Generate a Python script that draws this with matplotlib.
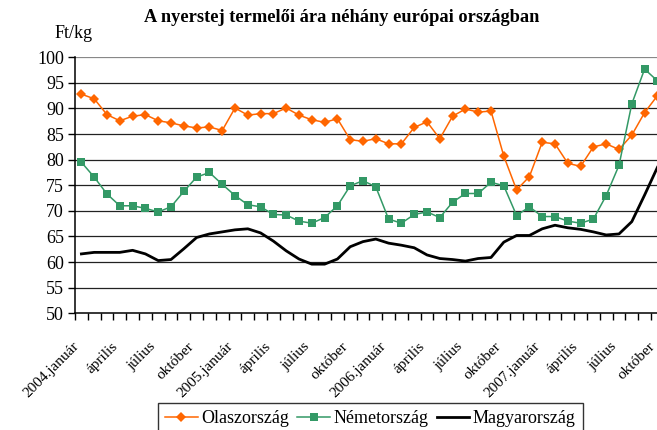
import numpy as np
import matplotlib
matplotlib.use("Agg")
from matplotlib import pyplot as plt
from matplotlib.ticker import FixedLocator
from matplotlib.transforms import ScaledTranslation

plt.rcParams['font.family'] = ['Liberation Serif', 'DejaVu Serif']

title = 'A nyerstej termelői ára néhány európai országban'
unit_label = 'Ft/kg'
series_names = ['Olaszország', 'Németország', 'Magyarország']

# monthly prices 2004.január .. 2007.október (46 months)
olasz = [92.8, 91.9, 88.8, 87.6, 88.5, 88.8, 87.6, 87.2, 86.6, 86.2, 86.4, 85.7,
         90.1, 88.7, 89.0, 89.0, 90.1, 88.7, 87.8, 87.3, 88.0, 83.9, 83.6, 84.1,
         83.1, 83.1, 86.3, 87.4, 84.1, 88.5, 89.9, 89.3, 89.5, 80.7, 74.1, 76.7,
         83.4, 83.1, 79.3, 78.7, 82.5, 83.1, 82.0, 84.8, 89.2, 92.5]
nemet = [79.5, 76.6, 73.3, 71.0, 71.0, 70.5, 69.8, 70.8, 73.8, 76.6, 77.5, 75.2,
         73.0, 71.2, 70.8, 69.3, 69.2, 68.0, 67.6, 68.7, 71.0, 74.9, 75.9, 74.7,
         68.4, 67.6, 69.3, 69.8, 68.7, 71.7, 73.4, 73.4, 75.6, 74.9, 69.1, 70.8,
         68.9, 68.9, 68.0, 67.6, 68.4, 73.0, 78.9, 90.9, 97.7, 95.4]
magyar = [61.6, 61.9, 61.9, 61.9, 62.3, 61.6, 60.3, 60.5, 62.6, 64.8, 65.5, 65.9,
          66.3, 66.5, 65.7, 64.1, 62.2, 60.6, 59.6, 59.6, 60.6, 63.0, 64.0, 64.5,
          63.7, 63.3, 62.8, 61.4, 60.7, 60.5, 60.2, 60.7, 60.9, 63.9, 65.2, 65.2,
          66.5, 67.2, 66.7, 66.4, 65.9, 65.3, 65.5, 67.9, 73.1, 78.5]

tick_labels = ['2004.január', 'április', 'július', 'október',
               '2005.január', 'április', 'július', 'október',
               '2006.január', 'április', 'július', 'október',
               '2007.január', 'április', 'július', 'október']
y_ticks = [50, 55, 60, 65, 70, 75, 80, 85, 90, 95, 100]

x = np.arange(len(olasz))

fig = plt.figure(figsize=(6.57, 4.30), dpi=100)
ax = fig.add_axes([75 / 657, 1 - 313.3 / 430, 588.8 / 657, 256 / 430])

for yv in y_ticks[1:]:
    ax.axhline(yv, color='#222222' if yv < 100 else '#888888', lw=0.9, zorder=1)

l1, = ax.plot(x, olasz, color='#FF6600', lw=1.1, marker='D', ms=5.5,
              markeredgewidth=0, zorder=3)
l2, = ax.plot(x, nemet, color='#339966', lw=1.1, marker='s', ms=6,
              markeredgewidth=0, zorder=3)
l3, = ax.plot(x, magyar, color='black', lw=2, zorder=2)

ax.set_xlim(-0.5, len(olasz) - 0.5)
ax.set_ylim(50, 100)
ax.set_yticks(y_ticks)
ax.tick_params(axis='y', labelsize=13, length=5, width=1, pad=3, direction='out')

ax.xaxis.set_major_locator(FixedLocator(np.arange(-0.5, len(olasz), 1)))
ax.xaxis.set_major_formatter(plt.NullFormatter())
ax.xaxis.set_minor_locator(FixedLocator(x[::3]))
ax.set_xticklabels(tick_labels, minor=True, rotation=45, ha='right',
                   rotation_mode='anchor', fontsize=11)
ax.tick_params(axis='x', which='major', length=5, width=1, direction='out')
ax.tick_params(axis='x', which='minor', length=0, pad=8)
shift = ScaledTranslation(-0.09, -0.15, fig.dpi_scale_trans)
for lab in ax.xaxis.get_minorticklabels():
    lab.set_transform(lab.get_transform() + shift)

for s in ['top', 'right']:
    ax.spines[s].set_visible(False)
ax.spines['left'].set_linewidth(1.1)
ax.spines['bottom'].set_linewidth(1.1)

fig.text(342 / 657, 1 - 18 / 430, title, ha='center', va='center',
         fontsize=13.2, fontweight='bold')
fig.text(74 / 657, 1 - 34 / 430, unit_label, ha='center', va='center', fontsize=13)

leg = fig.legend([l1, l2, l3], series_names, loc='upper left',
                 bbox_to_anchor=(158 / 657, 1 - 403 / 430), ncol=3,
                 fontsize=13, frameon=True, fancybox=False, edgecolor='black',
                 borderpad=0.4, handlelength=1.8, columnspacing=0.45,
                 handletextpad=0.2, borderaxespad=0)
leg.get_frame().set_linewidth(1)

fig.savefig('out.png', dpi=100)
